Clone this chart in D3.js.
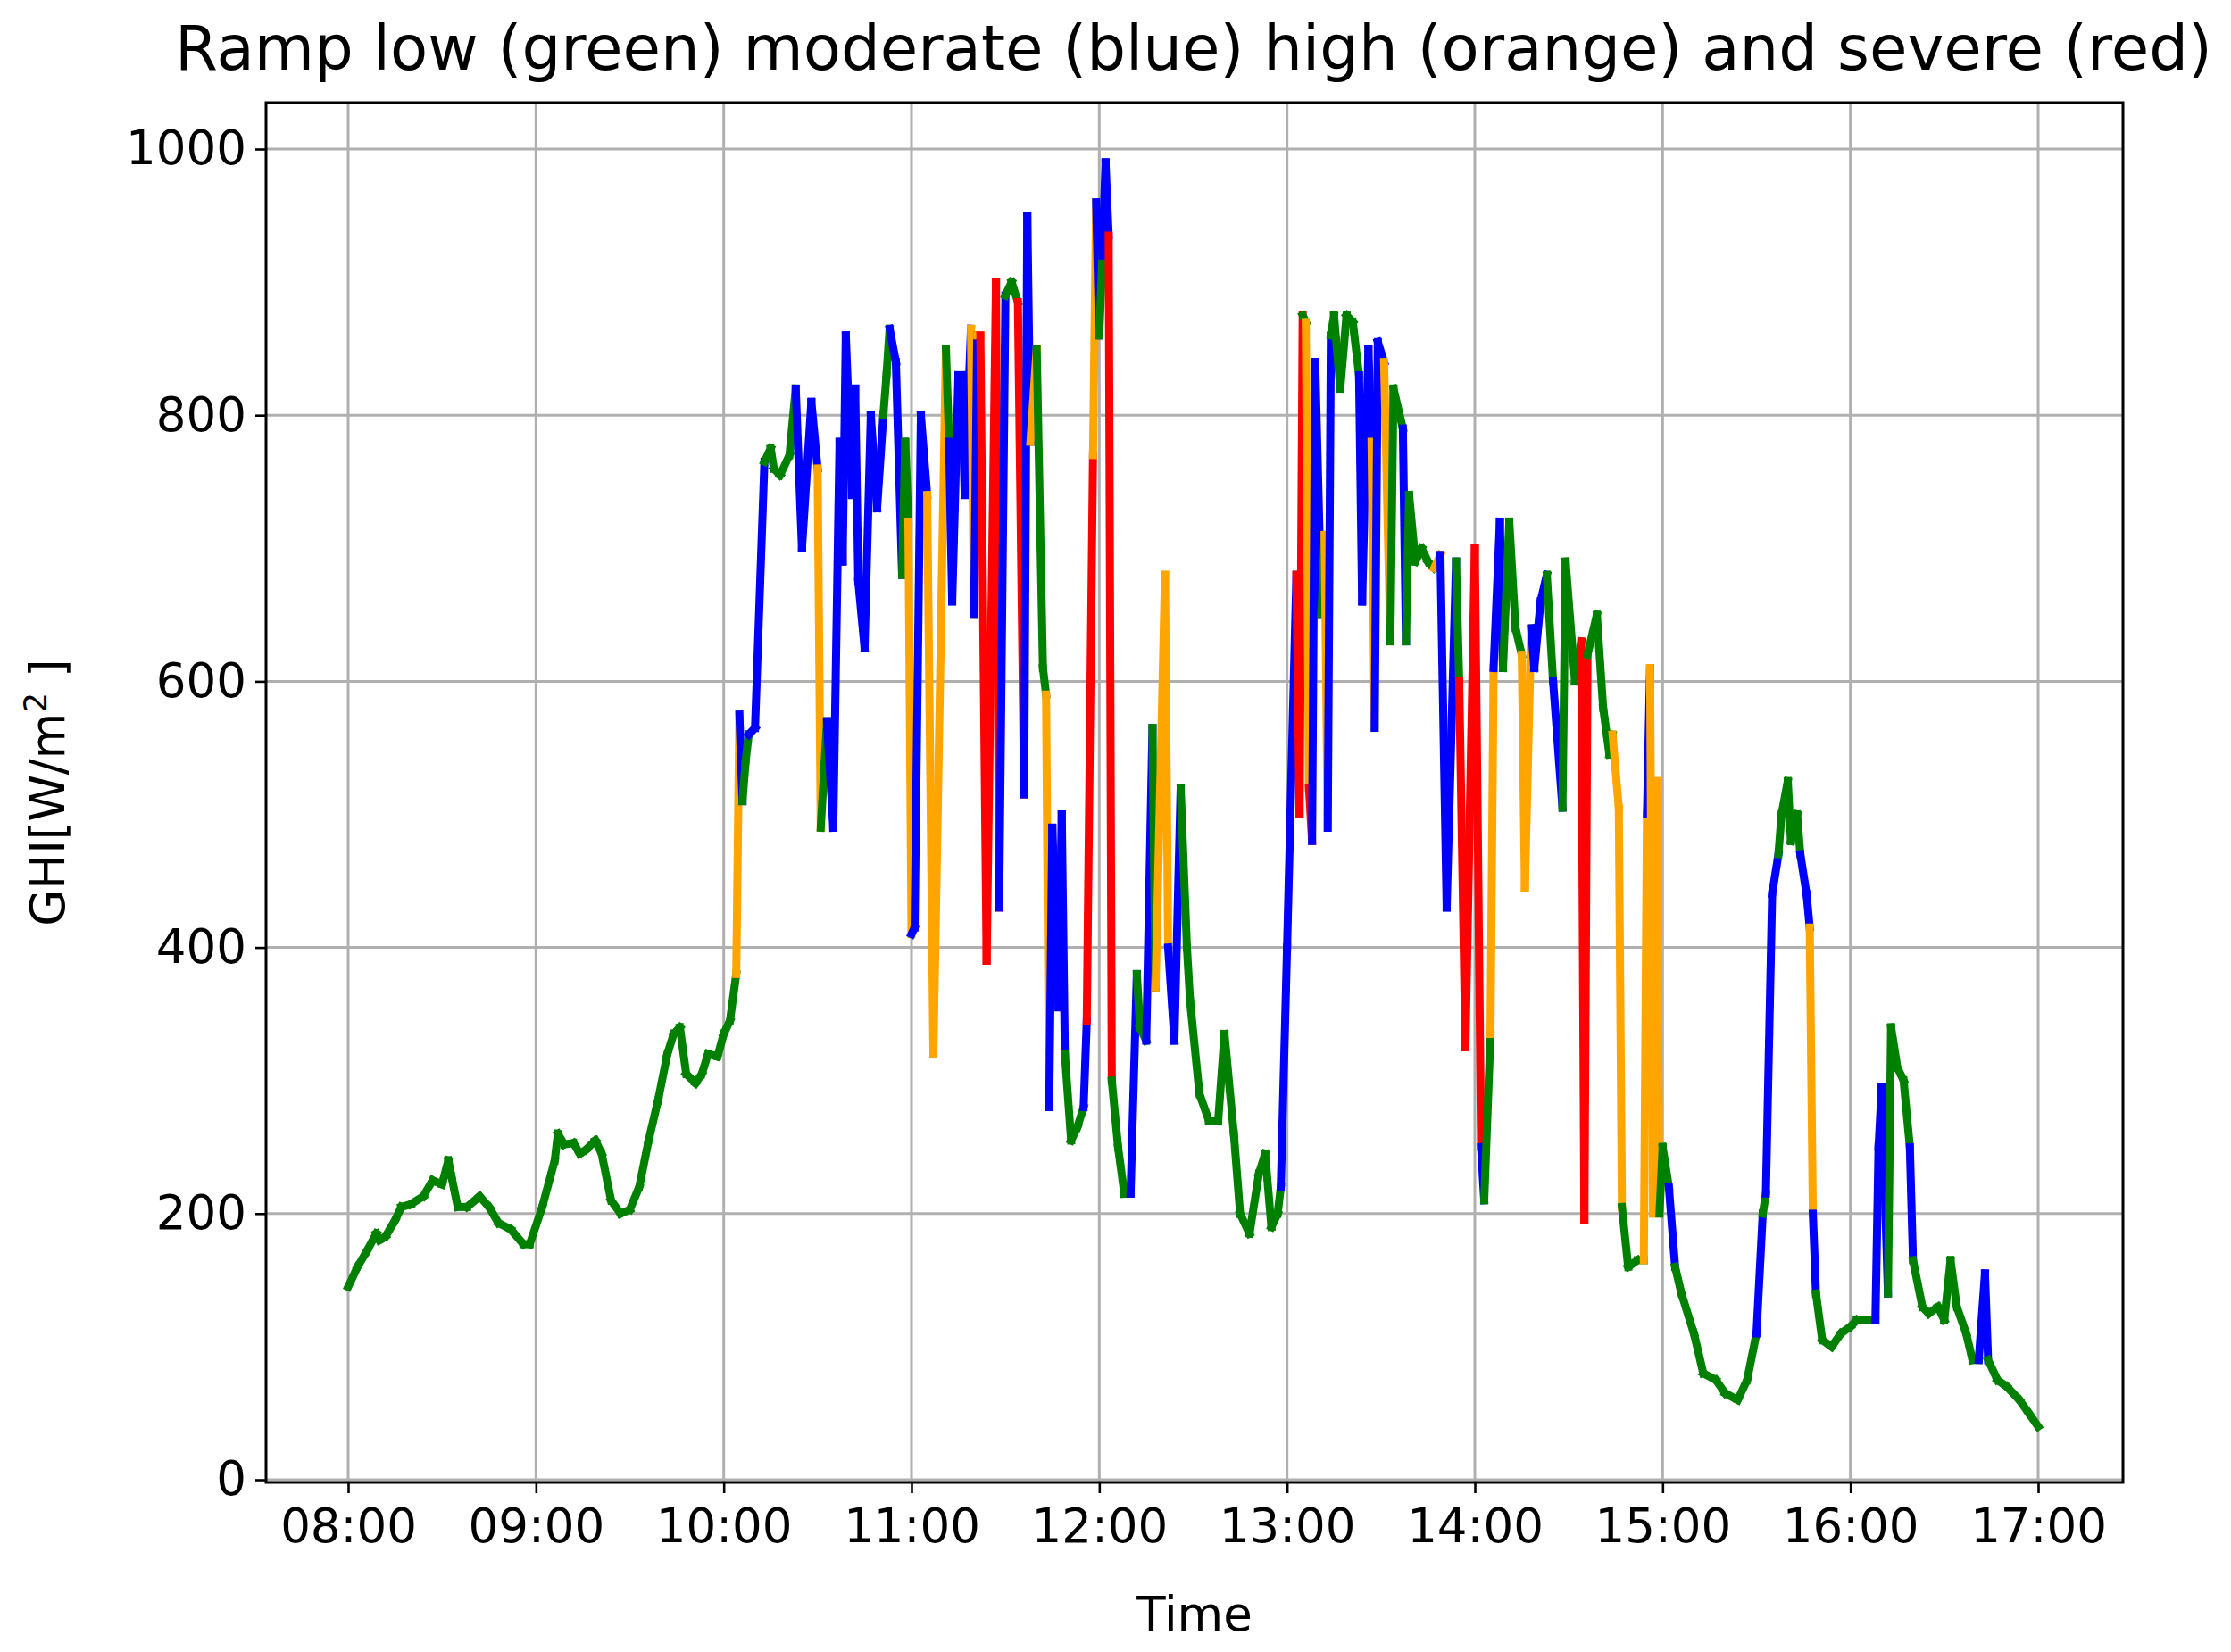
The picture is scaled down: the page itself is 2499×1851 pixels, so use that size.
<!DOCTYPE html>
<html>
<head>
<meta charset="utf-8">
<script src="https://cdn.jsdelivr.net/npm/d3@7"></script>
<style>
  body { margin: 0; background: #fff; }
  text { font-family: "DejaVu Sans", sans-serif; fill: #000; }
</style>
</head>
<body>
<svg id="chart" width="2499" height="1851"></svg>
<script>
const width = 2499, height = 1851;
const margin = { left: 298, right: 121, top: 115, bottom: 190 };

// minutes after 08:00
const minutes = [0,3,6,9,10,12,15,17,20,24,27,30,32,33,35,38,42,45,48,52,56,58,62,66,67,69,72,74,76,79,81,84,87,90,93,96,99,102,104,106,108,111,113,115,118,120,122,124,
  125,126,127,128,130,133,135,136,138,141,143,145,148,150,151,153,155,157,158,159,161,162,163,165,167,169,171,172,173,175,177,178,179,180,181,183,185,187,191,192,193,195,196,197,199,200,201,202,204,207,208,210,212,214,216,217,218,220,222,223,224,225,227,228,229,231,233,235,236,238,239,240,241,242,243,244,
  246,248,250,252,253,255,257,258,261,262,264,266,268,269,272,275,278,280,283,285,288,291,293,295,297,298,300,303,304,305,306,307,308,309,311,312,313,314,315,317,319,321,323,324,326,327,328,329,331,333,334,337,338,339,341,343,345,347,349,351,354,355,357,360,362,363,365,366,368,369,371,373,375,376,378,379,381,383,385,388,389,392,394,395,396,399,401,403,404,406,407,409,412,414,415,416,417,418,419,420,422,424,426,430,433,437,440,444,447,450,452,453,455,457,458,460,461,463,464,466,467,468,469,471,474,477,480,482,485,488,489,490,492,493,495,497,499,500,503,505,508,510,512,514,517,519,521,523,524,527,530,534,537,540];

const ghi = [145,160,172,185,180,183,195,205,207,213,225,222,240,228,205,205,213,205,193,188,177,177,205,240,260,252,253,245,248,255,245,210,200,203,220,255,285,320,335,340,305,298,305,320,318,335,345,380,
  575,510,540,560,565,765,775,760,755,770,820,700,810,760,490,570,490,780,690,860,740,820,675,625,800,730,800,830,865,840,680,780,720,410,415,800,740,320,850,780,660,830,830,740,865,650,860,860,390,900,430,890,900,885,515,950,780,850,610,590,280,490,355,500,320,255,265,280,345,770,960,860,920,990,935,300,
  250,215,215,380,340,330,565,370,680,400,330,520,400,360,290,270,270,335,260,200,185,230,245,190,200,220,400,680,500,875,870,520,480,840,650,710,490,860,875,820,875,870,830,660,850,780,565,855,840,630,820,790,630,740,690,700,690,685,695,430,690,600,325,700,250,210,335,610,720,610,720,640,620,445,640,610,660,680,600,505,690,600,630,195,620,650,580,545,560,505,205,160,165,165,500,610,200,525,200,250,220,160,140,110,80,75,65,60,75,110,200,215,440,470,500,525,480,500,470,440,415,200,140,105,100,110,115,120,120,120,250,295,140,340,310,300,250,165,130,125,130,120,165,130,110,90,90,155,90,75,70,60,50,40];

// ramp class of the segment ending at each point: g low, b moderate, o high, r severe
const ramp = [
  "g g g g g g g g g g g g g g g g g g g g g g g g g g g g g g g g g g g g g g g g g g g g g g g g",
  "o b g g b b g g g g g b b b o g b b b b b b b b b b b g g b b g g o b b b o o g b b b b b o b o r r r b g g r b b o g g o b b b b g g g b r o b g b b r",
  "g g g b g g b g o o b b g g g g g g g g g g g g g g b b r r g o r b b g o b g g g g g b b b o b b o g g b g g g g g o b b g r r r b g o b b g g g o o b b b g b g g g r r g g g g o o g g g o b o o o g g b g g g g g g g g b g b b g g g g g b b o b g g g g g g g b b b g g g g b g g g g g g g g g b b g g g g g"
].join(" ").split(" ");

const rampColors = { g: "#008000", b: "#0000ff", o: "#ffa500", r: "#ff0000" };
const hourTicks = [0, 60, 120, 180, 240, 300, 360, 420, 480, 540];
const hourLabels = ["08:00","09:00","10:00","11:00","12:00","13:00","14:00","15:00","16:00","17:00"];
const yTicks = [0, 200, 400, 600, 800, 1000];

const points = minutes.map((m, i) => ({ t: m, v: ghi[i], c: ramp[i] || "g" }));
const segments = points.slice(1).map((p, i) => ({ a: points[i], b: p, c: p.c }));

const x = d3.scaleLinear().domain([0, 540]).range([390, 2283]);
const y = d3.scaleLinear().domain([0, 1000]).range([1658, 167]);

const svg = d3.select("#chart");
const x0 = margin.left, x1 = width - margin.right, y0 = margin.top, y1 = height - margin.bottom;

// grid
svg.append("g").selectAll("line").data(hourTicks).join("line")
  .attr("x1", d => x(d)).attr("x2", d => x(d)).attr("y1", y0).attr("y2", y1)
  .attr("stroke", "#b0b0b0").attr("stroke-width", 3);
svg.append("g").selectAll("line").data(yTicks).join("line")
  .attr("x1", x0).attr("x2", x1).attr("y1", d => y(d)).attr("y2", d => y(d))
  .attr("stroke", "#b0b0b0").attr("stroke-width", 3);

// line segments
svg.append("g").selectAll("line").data(segments).join("line")
  .attr("x1", d => x(d.a.t)).attr("y1", d => y(d.a.v))
  .attr("x2", d => x(d.b.t)).attr("y2", d => y(d.b.v))
  .attr("stroke", d => rampColors[d.c])
  .attr("stroke-width", 9)
  .attr("stroke-linecap", "square");

// frame
svg.append("rect").attr("x", x0).attr("y", y0).attr("width", x1 - x0).attr("height", y1 - y0)
  .attr("fill", "none").attr("stroke", "#000").attr("stroke-width", 3);

// axes
const xAxis = svg.append("g").attr("transform", `translate(0,${y1})`)
  .call(d3.axisBottom(x).tickValues(hourTicks).tickFormat((d, i) => hourLabels[i]).tickSize(12).tickPadding(10));
const yAxis = svg.append("g").attr("transform", `translate(${x0},0)`)
  .call(d3.axisLeft(y).tickValues(yTicks).tickFormat(d3.format("d")).tickSize(12).tickPadding(10));
[xAxis, yAxis].forEach(g => {
  g.select(".domain").remove();
  g.selectAll(".tick line").attr("stroke", "#000").attr("stroke-width", 2.6);
  g.selectAll(".tick text").attr("font-size", 53).style("font-family", "DejaVu Sans");
});
xAxis.selectAll(".tick text").attr("dy", "0.85em");

// labels
svg.append("text").attr("x", (x0 + x1) / 2 - 1).attr("y", 78).attr("text-anchor", "middle")
  .attr("font-size", 69).text("Ramp low (green) moderate (blue) high (orange) and severe (red)");
svg.append("text").attr("x", (x0 + x1) / 2).attr("y", 1827).attr("text-anchor", "middle")
  .attr("font-size", 53).text("Time");
const yl = svg.append("text").attr("transform", `translate(72,${(y0 + y1) / 2}) rotate(-90)`)
  .attr("text-anchor", "middle").attr("font-size", 53);
yl.append("tspan").text("GHI[W/m");
yl.append("tspan").attr("dy", -20).attr("font-size", 36).text("2");
yl.append("tspan").attr("dy", 20).text(" ]");
</script>
</body>
</html>
